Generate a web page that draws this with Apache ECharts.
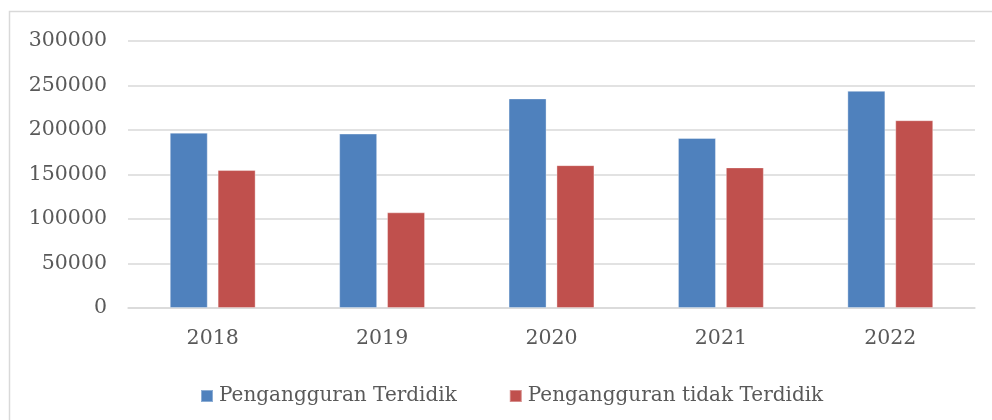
<!DOCTYPE html>
<html>
<head>
<meta charset="utf-8">
<script src="https://cdn.jsdelivr.net/npm/echarts@6/dist/echarts.min.js"></script>
<style>
html,body{margin:0;padding:0;background:#fff;}
#chart{width:992px;height:420px;}
</style>
</head>
<body>
<div id="chart"></div>
<script>
const categories = ['2018', '2019', '2020', '2021', '2022'];
const seriesNames = ['Pengangguran Terdidik', 'Pengangguran tidak Terdidik'];
const terdidik = [197000, 196000, 235500, 191000, 244000];
const tidakTerdidik = [155000, 107500, 160500, 158000, 211000];
const yTicks = [0, 50000, 100000, 150000, 200000, 250000, 300000];

const font = 'DejaVu Serif';
const textColor = '#595959';
const chart = echarts.init(document.getElementById('chart'), null, {renderer: 'canvas'});
chart.setOption({
  animation: false,
  backgroundColor: '#fff',
  graphic: [{
    type: 'rect',
    shape: {x: 9.5, y: 11.5, width: 1000, height: 420},
    style: {fill: 'none', stroke: '#d9d9d9', lineWidth: 1.5},
    silent: true, z: -1
  }],
  grid: {left: 128, right: 17, top: 41, bottom: 112, containLabel: false},
  legend: {
    data: seriesNames,
    left: 195, top: 381,
    itemWidth: 12, itemHeight: 12, itemGap: 52,
    icon: 'rect',
    textStyle: {fontFamily: font, fontSize: 20, color: textColor, padding: [0, 0, 0, 1]}
  },
  xAxis: {
    type: 'category',
    data: categories,
    axisLine: {show: true, lineStyle: {color: '#d9d9d9', width: 1.5}},
    axisTick: {show: false},
    axisLabel: {fontFamily: font, fontSize: 20.5, color: textColor, margin: 20}
  },
  yAxis: {
    type: 'value',
    min: yTicks[0], max: yTicks[yTicks.length - 1], interval: yTicks[1] - yTicks[0],
    axisLine: {show: false},
    axisTick: {show: false},
    splitLine: {lineStyle: {color: '#d9d9d9', width: 1.5}},
    axisLabel: {fontFamily: font, fontSize: 20.5, color: textColor, margin: 21,
      formatter: function (v) { return String(v); }}
  },
  series: [
    {
      name: seriesNames[0], type: 'bar', data: terdidik,
      barWidth: 38, barGap: '26%',
      itemStyle: {color: '#4f81bd', borderColor: 'rgba(255,255,255,0.35)', borderWidth: 1}
    },
    {
      name: seriesNames[1], type: 'bar', data: tidakTerdidik,
      barWidth: 38, barGap: '26%',
      itemStyle: {color: '#c0504d', borderColor: 'rgba(255,255,255,0.35)', borderWidth: 1}
    }
  ]
});
</script>
</body>
</html>
